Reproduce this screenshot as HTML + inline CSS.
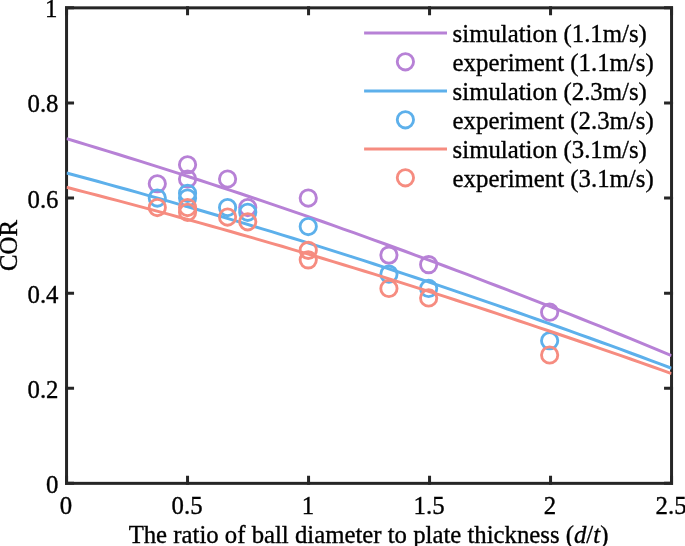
<!DOCTYPE html><html><head><meta charset="utf-8"><style>html,body{margin:0;padding:0;background:#fff;overflow:hidden;}svg{display:block;will-change:transform;}</style></head><body>
<svg width="685" height="546" viewBox="0 0 685 546" font-family='"Liberation Serif", serif' font-size="24.8">
<defs><clipPath id="cp"><rect x="66.55" y="0" width="605.0" height="546"/></clipPath></defs>
<rect width="685" height="546" fill="#fff"/>
<rect x="66.55" y="7.85" width="605.0" height="475.5" fill="none" stroke="#262626" stroke-width="3"/>
<path d="M66.55,483.35 V477.35 M66.55,7.85 V13.85 M187.55,483.35 V477.35 M187.55,7.85 V13.85 M308.55,483.35 V477.35 M308.55,7.85 V13.85 M429.55,483.35 V477.35 M429.55,7.85 V13.85 M550.55,483.35 V477.35 M550.55,7.85 V13.85 M671.55,483.35 V477.35 M671.55,7.85 V13.85 M66.55,483.35 H72.55 M671.55,483.35 H665.55 M66.55,388.25 H72.55 M671.55,388.25 H665.55 M66.55,293.15 H72.55 M671.55,293.15 H665.55 M66.55,198.05 H72.55 M671.55,198.05 H665.55 M66.55,102.95 H72.55 M671.55,102.95 H665.55 M66.55,7.85 H72.55 M671.55,7.85 H665.55" stroke="#262626" stroke-width="3" stroke-linecap="square" fill="none"/>
<path d="M66.55,138.67 L76.80,141.75 L87.06,144.85 L97.31,147.97 L107.57,151.11 L117.82,154.27 L128.08,157.45 L138.33,160.65 L148.58,163.88 L158.84,167.12 L169.09,170.38 L179.35,173.66 L189.60,176.97 L199.86,180.29 L210.11,183.63 L220.36,187.00 L230.62,190.38 L240.87,193.79 L251.13,197.21 L261.38,200.66 L271.63,204.12 L281.89,207.61 L292.14,211.11 L302.40,214.64 L312.65,218.20 L322.91,221.79 L333.16,225.40 L343.41,229.04 L353.67,232.69 L363.92,236.36 L374.18,240.06 L384.43,243.77 L394.69,247.51 L404.94,251.26 L415.19,255.04 L425.45,258.84 L435.70,262.65 L445.96,266.49 L456.21,270.35 L466.47,274.22 L476.72,278.12 L486.97,282.04 L497.23,285.98 L507.48,289.92 L517.74,293.87 L527.99,297.84 L538.24,301.84 L548.50,305.85 L558.75,309.88 L569.01,313.94 L579.26,318.01 L589.52,322.10 L599.77,326.22 L610.02,330.35 L620.28,334.51 L630.53,338.68 L640.79,342.88 L651.04,347.09 L661.30,351.33 L671.55,355.58" fill="none" stroke="#B781D6" stroke-width="3.0" stroke-linejoin="round" clip-path="url(#cp)"/>
<circle cx="157.30" cy="183.79" r="8.15" fill="none" stroke="#B781D6" stroke-width="2.85"/>
<circle cx="187.55" cy="164.76" r="8.15" fill="none" stroke="#B781D6" stroke-width="2.85"/>
<circle cx="187.55" cy="179.03" r="8.15" fill="none" stroke="#B781D6" stroke-width="2.85"/>
<circle cx="227.58" cy="179.03" r="8.15" fill="none" stroke="#B781D6" stroke-width="2.85"/>
<circle cx="247.75" cy="207.56" r="8.15" fill="none" stroke="#B781D6" stroke-width="2.85"/>
<circle cx="308.25" cy="198.05" r="8.15" fill="none" stroke="#B781D6" stroke-width="2.85"/>
<circle cx="388.92" cy="255.11" r="8.15" fill="none" stroke="#B781D6" stroke-width="2.85"/>
<circle cx="428.65" cy="264.62" r="8.15" fill="none" stroke="#B781D6" stroke-width="2.85"/>
<circle cx="549.65" cy="312.17" r="8.15" fill="none" stroke="#B781D6" stroke-width="2.85"/>
<path d="M66.55,172.99 L76.80,175.75 L87.06,178.52 L97.31,181.32 L107.57,184.13 L117.82,186.96 L128.08,189.81 L138.33,192.68 L148.58,195.57 L158.84,198.47 L169.09,201.40 L179.35,204.34 L189.60,207.31 L199.86,210.29 L210.11,213.29 L220.36,216.31 L230.62,219.34 L240.87,222.40 L251.13,225.48 L261.38,228.57 L271.63,231.68 L281.89,234.82 L292.14,237.97 L302.40,241.14 L312.65,244.33 L322.91,247.57 L333.16,250.82 L343.41,254.09 L353.67,257.38 L363.92,260.69 L374.18,264.02 L384.43,267.36 L394.69,270.73 L404.94,274.11 L415.19,277.51 L425.45,280.94 L435.70,284.38 L445.96,287.83 L456.21,291.31 L466.47,294.81 L476.72,298.32 L486.97,301.86 L497.23,305.41 L507.48,308.97 L517.74,312.53 L527.99,316.11 L538.24,319.71 L548.50,323.33 L558.75,326.97 L569.01,330.63 L579.26,334.31 L589.52,338.00 L599.77,341.72 L610.02,345.45 L620.28,349.20 L630.53,352.97 L640.79,356.76 L651.04,360.57 L661.30,364.39 L671.55,368.24" fill="none" stroke="#5DB0EB" stroke-width="3.0" stroke-linejoin="round" clip-path="url(#cp)"/>
<circle cx="157.30" cy="198.05" r="8.15" fill="none" stroke="#5DB0EB" stroke-width="2.85"/>
<circle cx="187.55" cy="193.30" r="8.15" fill="none" stroke="#5DB0EB" stroke-width="2.85"/>
<circle cx="187.55" cy="198.05" r="8.15" fill="none" stroke="#5DB0EB" stroke-width="2.85"/>
<circle cx="227.58" cy="207.56" r="8.15" fill="none" stroke="#5DB0EB" stroke-width="2.85"/>
<circle cx="247.75" cy="212.32" r="8.15" fill="none" stroke="#5DB0EB" stroke-width="2.85"/>
<circle cx="308.25" cy="226.58" r="8.15" fill="none" stroke="#5DB0EB" stroke-width="2.85"/>
<circle cx="388.92" cy="274.13" r="8.15" fill="none" stroke="#5DB0EB" stroke-width="2.85"/>
<circle cx="428.65" cy="288.40" r="8.15" fill="none" stroke="#5DB0EB" stroke-width="2.85"/>
<circle cx="549.65" cy="340.70" r="8.15" fill="none" stroke="#5DB0EB" stroke-width="2.85"/>
<path d="M66.55,187.31 L76.80,189.94 L87.06,192.59 L97.31,195.26 L107.57,197.94 L117.82,200.64 L128.08,203.36 L138.33,206.10 L148.58,208.86 L158.84,211.63 L169.09,214.42 L179.35,217.23 L189.60,220.06 L199.86,222.91 L210.11,225.77 L220.36,228.65 L230.62,231.55 L240.87,234.47 L251.13,237.40 L261.38,240.36 L271.63,243.33 L281.89,246.31 L292.14,249.32 L302.40,252.34 L312.65,255.40 L322.91,258.48 L333.16,261.59 L343.41,264.71 L353.67,267.85 L363.92,271.01 L374.18,274.18 L384.43,277.37 L394.69,280.59 L404.94,283.81 L415.19,287.06 L425.45,290.33 L435.70,293.61 L445.96,296.91 L456.21,300.23 L466.47,303.56 L476.72,306.92 L486.97,310.29 L497.23,313.68 L507.48,317.07 L517.74,320.47 L527.99,323.89 L538.24,327.32 L548.50,330.78 L558.75,334.25 L569.01,337.73 L579.26,341.24 L589.52,344.76 L599.77,348.30 L610.02,351.86 L620.28,355.44 L630.53,359.04 L640.79,362.65 L651.04,366.28 L661.30,369.93 L671.55,373.60" fill="none" stroke="#F68C80" stroke-width="3.0" stroke-linejoin="round" clip-path="url(#cp)"/>
<circle cx="157.30" cy="207.56" r="8.15" fill="none" stroke="#F68C80" stroke-width="2.85"/>
<circle cx="187.55" cy="207.56" r="8.15" fill="none" stroke="#F68C80" stroke-width="2.85"/>
<circle cx="187.55" cy="212.32" r="8.15" fill="none" stroke="#F68C80" stroke-width="2.85"/>
<circle cx="227.58" cy="217.07" r="8.15" fill="none" stroke="#F68C80" stroke-width="2.85"/>
<circle cx="247.75" cy="221.82" r="8.15" fill="none" stroke="#F68C80" stroke-width="2.85"/>
<circle cx="308.25" cy="250.36" r="8.15" fill="none" stroke="#F68C80" stroke-width="2.85"/>
<circle cx="308.25" cy="259.87" r="8.15" fill="none" stroke="#F68C80" stroke-width="2.85"/>
<circle cx="388.92" cy="288.40" r="8.15" fill="none" stroke="#F68C80" stroke-width="2.85"/>
<circle cx="428.65" cy="297.91" r="8.15" fill="none" stroke="#F68C80" stroke-width="2.85"/>
<circle cx="549.65" cy="354.97" r="8.15" fill="none" stroke="#F68C80" stroke-width="2.85"/>
<g fill="#000" stroke="#000" stroke-width="0.35">
<text x="66.05" y="514" text-anchor="middle">0</text>
<text x="187.05" y="514" text-anchor="middle">0.5</text>
<text x="308.05" y="514" text-anchor="middle">1</text>
<text x="429.05" y="514" text-anchor="middle">1.5</text>
<text x="550.05" y="514" text-anchor="middle">2</text>
<text x="671.05" y="514" text-anchor="middle">2.5</text>
<text x="58.5" y="492.85" text-anchor="end">0</text>
<text x="58.5" y="397.75" text-anchor="end">0.2</text>
<text x="58.5" y="302.65" text-anchor="end">0.4</text>
<text x="58.5" y="207.85" text-anchor="end">0.6</text>
<text x="58.5" y="112.45" text-anchor="end">0.8</text>
<text x="57.3" y="17.35" text-anchor="end">1</text>
<text x="368.5" y="543" text-anchor="middle" font-size="24.75">The ratio of ball diameter to plate thickness (<tspan font-style="italic">d</tspan>/<tspan font-style="italic">t</tspan>)</text>
<text transform="translate(17.1,245.50) rotate(-90)" text-anchor="middle">COR</text>
<line x1="364.1" y1="33.10" x2="447.0" y2="33.10" stroke="#B781D6" stroke-width="3.0"/>
<text x="452.6" y="42.25">simulation (1.1m/s)</text>
<circle cx="405.4" cy="61.80" r="8.15" fill="none" stroke="#B781D6" stroke-width="2.85"/>
<text x="452.6" y="71.25">experiment (1.1m/s)</text>
<line x1="364.1" y1="91.10" x2="447.0" y2="91.10" stroke="#5DB0EB" stroke-width="3.0"/>
<text x="452.6" y="100.25">simulation (2.3m/s)</text>
<circle cx="405.4" cy="119.80" r="8.15" fill="none" stroke="#5DB0EB" stroke-width="2.85"/>
<text x="452.6" y="129.25">experiment (2.3m/s)</text>
<line x1="364.1" y1="149.10" x2="447.0" y2="149.10" stroke="#F68C80" stroke-width="3.0"/>
<text x="452.6" y="158.25">simulation (3.1m/s)</text>
<circle cx="405.4" cy="177.80" r="8.15" fill="none" stroke="#F68C80" stroke-width="2.85"/>
<text x="452.6" y="187.25">experiment (3.1m/s)</text>
</g>
</svg></body></html>
